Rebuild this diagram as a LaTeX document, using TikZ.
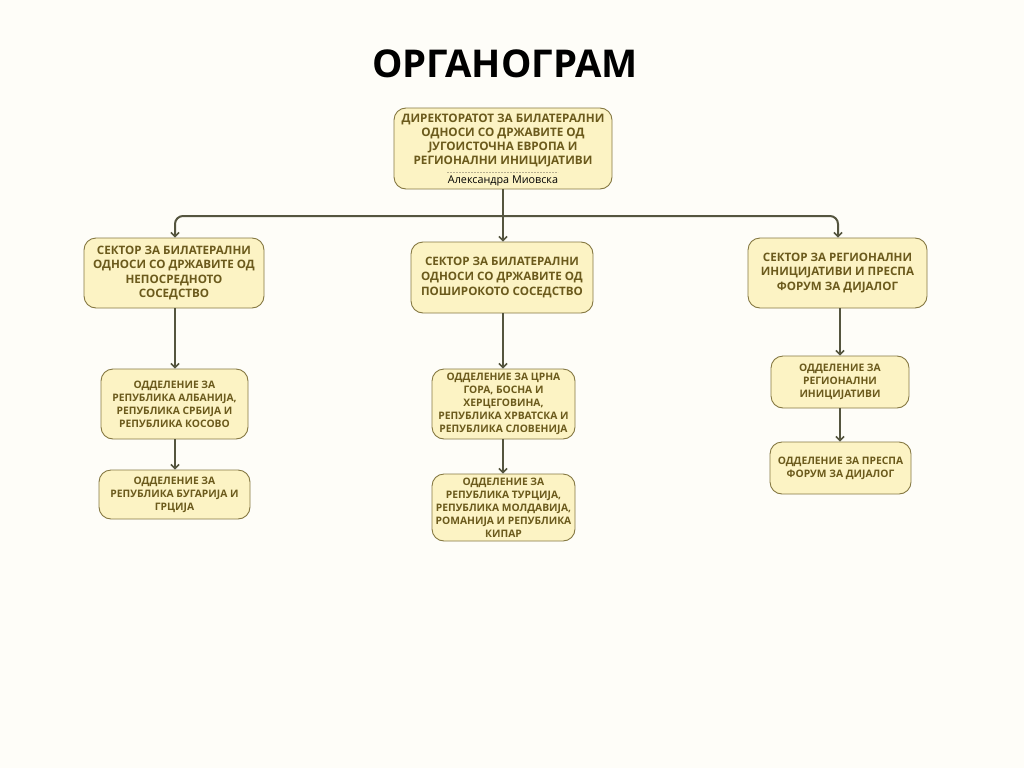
\documentclass[tikz,border=0pt]{standalone}
\usepackage{fontspec}
\setmainfont{Open Sans}
\usetikzlibrary{arrows.meta}
\definecolor{bg}{HTML}{FEFDF8}
\definecolor{boxfill}{HTML}{FCF3C4}
\definecolor{boxline}{HTML}{857842}
\definecolor{boxtext}{HTML}{6B5A1C}
\definecolor{conn}{HTML}{55553F}
\tikzset{
  x=1pt,y=-1pt,
  orgbox/.style={draw=boxline, fill=boxfill, line width=0.9pt, rounded corners=12pt,
    align=center, text=boxtext, font=\bfseries\fontsize{11.6}{14.6}\selectfont, inner sep=0pt},
  deptbox/.style={orgbox, font=\bfseries\fontsize{10.3}{12.9}\selectfont},
  link/.style={draw=conn, line width=2pt, -{Straight Barb[length=4pt,width=8pt,line width=1.6pt]}},
}
\begin{document}
\begin{tikzpicture}
\fill[bg] (0,0) rectangle (1024,768);
\useasboundingbox (0,0) rectangle (1024,768);
\node (title) at (505,64) {\bfseries\fontsize{38.3}{40}\selectfont ОРГАНОГРАМ};
% top
\node[orgbox, minimum width=218pt, minimum height=81pt] (top) at (503,148.5) {};
\node[text=boxtext, font=\bfseries\fontsize{11.7}{14}\selectfont, align=center, inner sep=0pt] (toptext) at (503,140)
  {ДИРЕКТОРАТОТ ЗА БИЛАТЕРАЛНИ\\ОДНОСИ СО ДРЖАВИТЕ ОД\\ЈУГОИСТОЧНА ЕВРОПА И\\РЕГИОНАЛНИ ИНИЦИЈАТИВИ};
\coordinate (sepL) at (447,172);
\coordinate (sepR) at (558,172);
\draw[boxline!60, line width=0.6pt, dash pattern=on 2pt off 1pt] (sepL) -- (sepR);
\node[font=\fontsize{10.8}{12}\selectfont, text=black, inner sep=0pt] (person) at (503,180.5) {Александра Миовска};
% sectors
\node[orgbox, minimum width=180pt, minimum height=70pt] (s1) at (174,273)
  {СЕКТОР ЗА БИЛАТЕРАЛНИ\\ОДНОСИ СО ДРЖАВИТЕ ОД\\НЕПОСРЕДНОТО\\СОСЕДСТВО};
\node[orgbox, minimum width=182pt, minimum height=71pt] (s2) at (502,277.5)
  {СЕКТОР ЗА БИЛАТЕРАЛНИ\\ОДНОСИ СО ДРЖАВИТЕ ОД\\ПОШИРОКОТО СОСЕДСТВО};
\node[orgbox, minimum width=179pt, minimum height=70pt] (s3) at (837.5,273)
  {СЕКТОР ЗА РЕГИОНАЛНИ\\ИНИЦИЈАТИВИ И ПРЕСПА\\ФОРУМ ЗА ДИЈАЛОГ};
% departments
\node[deptbox, minimum width=147pt, minimum height=70pt] (l1) at (174.5,404)
  {ОДДЕЛЕНИЕ ЗА\\РЕПУБЛИКА АЛБАНИЈА,\\РЕПУБЛИКА СРБИЈА И\\РЕПУБЛИКА КОСОВО};
\node[deptbox, minimum width=151pt, minimum height=49pt] (l2) at (174.5,494.5)
  {ОДДЕЛЕНИЕ ЗА\\РЕПУБЛИКА БУГАРИЈА И\\ГРЦИЈА};
\node[deptbox, minimum width=143pt, minimum height=70pt] (m1) at (503.5,404)
  {ОДДЕЛЕНИЕ ЗА ЦРНА\\ГОРА, БОСНА И\\ХЕРЦЕГОВИНА,\\РЕПУБЛИКА ХРВАТСКА И\\РЕПУБЛИКА СЛОВЕНИЈА};
\node[deptbox, minimum width=143pt, minimum height=67pt] (m2) at (503.5,507.5)
  {ОДДЕЛЕНИЕ ЗА\\РЕПУБЛИКА ТУРЦИЈА,\\РЕПУБЛИКА МОЛДАВИЈА,\\РОМАНИЈА И РЕПУБЛИКА\\КИПАР};
\node[deptbox, minimum width=138pt, minimum height=52pt] (r1) at (840,382)
  {ОДДЕЛЕНИЕ ЗА\\РЕГИОНАЛНИ\\ИНИЦИЈАТИВИ};
\node[deptbox, minimum width=141pt, minimum height=52pt] (r2) at (840.5,468)
  {ОДДЕЛЕНИЕ ЗА ПРЕСПА\\ФОРУМ ЗА ДИЈАЛОГ};
% connectors
\coordinate (bus) at (503,216);
\coordinate (cl) at (175,0);
\coordinate (cm) at (503,0);
\coordinate (cr) at (838,0);
\coordinate (cr2) at (840,0);
\draw[link] (cm |- top.south) -- (cm |- s2.north);
\draw[link, rounded corners=8pt] (bus) -| (cl |- s1.north);
\draw[link, rounded corners=8pt] (bus) -| (cr |- s3.north);
\draw[link] (cl |- s1.south) -- (cl |- l1.north);
\draw[link] (cl |- l1.south) -- (cl |- l2.north);
\draw[link] (cm |- s2.south) -- (cm |- m1.north);
\draw[link] (cm |- m1.south) -- (cm |- m2.north);
\draw[link] (cr2 |- s3.south) -- (cr2 |- r1.north);
\draw[link] (cr2 |- r1.south) -- (cr2 |- r2.north);
\end{tikzpicture}
\end{document}
